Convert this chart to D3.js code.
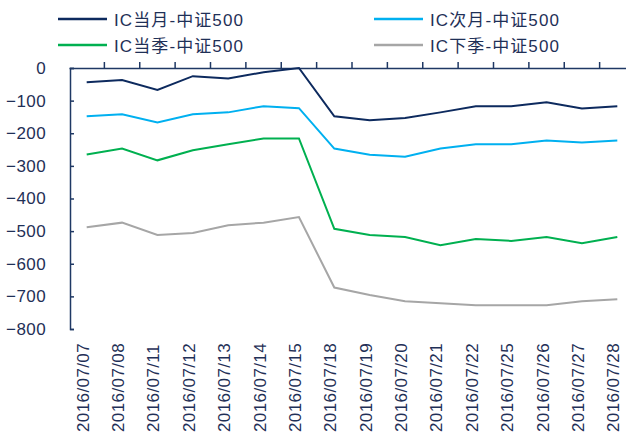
<!DOCTYPE html>
<meta charset="utf-8"/>
<title>IC basis</title>
<script src="https://cdn.jsdelivr.net/npm/d3@7"></script>
<style>
  body { margin: 0; background: #fff; }
  svg text { font-family: "Liberation Sans", Arial, "Noto Sans CJK SC", sans-serif; fill: #1f3057; }
</style>
<svg width=626 height=436></svg>
<script>
  const dates = ["2016/07/07", "2016/07/08", "2016/07/11", "2016/07/12", "2016/07/13", "2016/07/14",
    "2016/07/15", "2016/07/18", "2016/07/19", "2016/07/20", "2016/07/21", "2016/07/22",
    "2016/07/25", "2016/07/26", "2016/07/27", "2016/07/28"];
  const names = ["IC当月-中证500", "IC次月-中证500", "IC当季-中证500", "IC下季-中证500"];
  const colors = ["#0d2a5e", "#00b0f0", "#00b050", "#a6a6a6"];
  const curMonth = [-44, -37, -67, -25, -32, -13, 0, -148, -160, -153, -136, -117, -117, -105, -124, -117];
  const nextMonth = [-148, -142, -167, -142, -136, -117, -123, -247, -266, -272, -247, -234, -234, -222, -228, -222];
  const curQuarter = [-265, -247, -283, -252, -234, -216, -216, -493, -512, -518, -543, -524, -530, -518, -537, -518];
  const nextQuarter = [-488, -474, -512, -506, -482, -474, -457, -673, -696, -715, -721, -727, -727, -727, -715, -709];
  const series = [curMonth, nextMonth, curQuarter, nextQuarter];
  const yTicks = [0, -100, -200, -300, -400, -500, -600, -700, -800];

  const svg = d3.select("svg");
  const axisColor = "#1f3864";

  const x = d3.scaleBand().domain(dates).range([69, 635]);
  const y = d3.scaleLinear().domain([-800, 0]).range([329, 68]);

  // y axis
  const yAxis = svg.append("g").attr("transform", "translate(70,0)")
    .call(d3.axisRight(y).tickValues(yTicks).tickSize(4).tickFormat(d3.format("d")));
  yAxis.select(".domain").attr("stroke", axisColor).attr("stroke-width", 1.5);
  yAxis.selectAll(".tick line").attr("stroke", axisColor).attr("stroke-width", 1.5);
  yAxis.selectAll(".tick text")
    .attr("x", -24).attr("text-anchor", "end")
    .style("font-size", "17px")
    .style("letter-spacing", "0.4px");

  // x axis sits on zero, ticks pointing up
  const xAxis = svg.append("g").attr("transform", `translate(0,${y(0)})`)
    .call(d3.axisTop(x).tickSize(0).tickFormat(""));
  xAxis.select(".domain").attr("stroke", axisColor).attr("stroke-width", 1.5);
  xAxis.selectAll(".sep").data(dates.slice(1)).enter().append("line")
    .attr("x1", d => x(d)).attr("x2", d => x(d))
    .attr("y1", 0).attr("y2", -6)
    .attr("stroke", axisColor).attr("stroke-width", 1.5);

  // rotated date labels
  svg.append("g").selectAll("text").data(dates).enter().append("text")
    .attr("transform", d => `translate(${x(d) + x.bandwidth() / 2 + 2},432)rotate(-90)`)
    .style("font-size", "17px")
    .style("letter-spacing", "0.4px")
    .text(d => d);

  // lines
  const line = d3.line()
    .x((d, i) => x(dates[i]) + x.bandwidth() / 2)
    .y(d => y(d));
  svg.append("g").selectAll("path").data(series).enter().append("path")
    .attr("d", line)
    .attr("fill", "none")
    .attr("stroke", (d, i) => colors[i])
    .attr("stroke-width", 2);

  // legend
  const legend = svg.append("g").selectAll("g").data(names).enter().append("g")
    .attr("transform", (d, i) => `translate(${i % 2 ? 374 : 58},${i < 2 ? 19 : 45})`);
  legend.append("line")
    .attr("x1", 0).attr("x2", 49)
    .attr("stroke", (d, i) => colors[i]).attr("stroke-width", 2.5);
  legend.append("text")
    .attr("x", 56).attr("dy", "0.4em")
    .style("font-size", "17px")
    .style("letter-spacing", "1.1px")
    .text(d => d);
</script>
